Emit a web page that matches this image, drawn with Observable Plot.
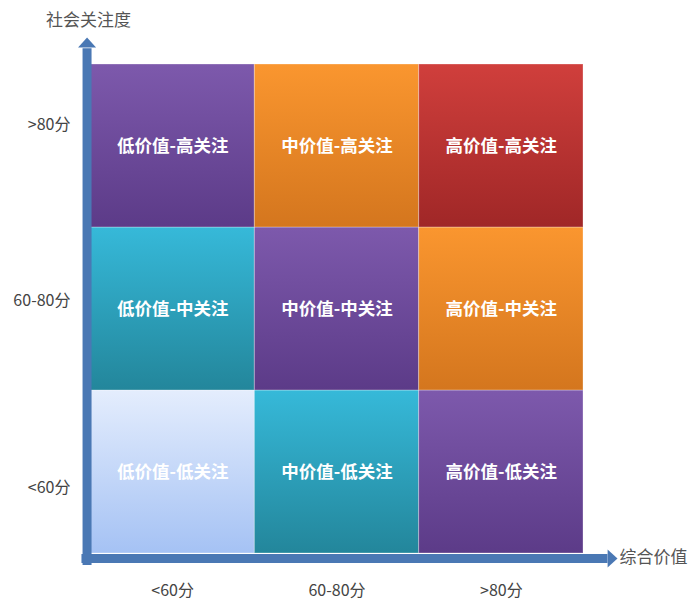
<!DOCTYPE html>
<html>
<head>
<meta charset="utf-8">
<script src="https://cdn.jsdelivr.net/npm/d3@7"></script>
<script src="https://cdn.jsdelivr.net/npm/@observablehq/plot@0.6"></script>
<style>
  html, body { margin: 0; padding: 0; background: #fff; }
  #chart { width: 692px; height: 601px; }
  svg { font-family: "Noto Sans CJK SC", "Noto Sans", sans-serif; }
</style>
</head>
<body>
<div id="chart"></div>
<script>
// ---- data ----
const xTickLabels = ["<60分", "60-80分", ">80分"];
const yTickLabels = ["<60分", "60-80分", ">80分"];
const valueLevels = ["低价值", "中价值", "高价值"];
const attentionLevels = ["低关注", "中关注", "高关注"];
// palette key per [attention row][value column]
const cellPalette = [
  ["light", "teal", "purple"],
  ["teal", "purple", "orange"],
  ["purple", "orange", "red"]
];
const yTickPos = [0.40, 1.55, 2.63];
const xAxisTitle = "综合价值";
const yAxisTitle = "社会关注度";

const gradients = {
  purple: ["#7d59ac", "#5c3b88"],
  orange: ["#fa962f", "#d4761e"],
  red: ["#d03f3c", "#a02727"],
  teal: ["#36b9d9", "#23869b"],
  light: ["#e4edfd", "#a5c2f4"]
};

const cells = [];
attentionLevels.forEach((a, yi) => {
  valueLevels.forEach((v, xi) => {
    cells.push({
      x1: xi, x2: xi + 1, y1: yi, y2: yi + 1,
      label: `${v}-${a}`,
      fill: `url(#grad-${cellPalette[yi][xi]})`
    });
  });
});

const axisColor = "#4a78b4";

// flat arrowhead symbol (points up before rotation)
const arrowHead = {
  draw(context, size) {
    const r = Math.sqrt(size / Math.PI);
    context.moveTo(0, -r * 0.6);
    context.lineTo(r, r * 0.5);
    context.lineTo(-r, r * 0.5);
    context.closePath();
  }
};

const plot = Plot.plot({
  width: 692,
  height: 601,
  marginLeft: 90,
  marginRight: 109,
  marginTop: 64,
  marginBottom: 48,
  x: { domain: [0, 3], axis: null },
  y: { domain: [0, 3], axis: null },
  color: { type: "identity" },
  marks: [
    Plot.rect(cells, {
      x1: "x1", x2: "x2", y1: "y1", y2: "y2",
      fill: "fill", stroke: "#ffffff", strokeOpacity: 0.3, strokeWidth: 1
    }),
    Plot.text(cells, {
      x: d => (d.x1 + d.x2) / 2,
      y: d => (d.y1 + d.y2) / 2,
      text: "label",
      fill: "#ffffff",
      fontSize: 17.5,
      fontWeight: "bold"
    }),
    // axes
    Plot.link([{ x1: -0.021, y1: -0.07, x2: -0.021, y2: 3.10 }], {
      x1: "x1", y1: "y1", x2: "x2", y2: "y2",
      stroke: axisColor, strokeWidth: 9
    }),
    Plot.link([{ x1: -0.055, y1: -0.031, x2: 3.146, y2: -0.031 }], {
      x1: "x1", y1: "y1", x2: "x2", y2: "y2",
      stroke: axisColor, strokeWidth: 9
    }),
    Plot.dot([{ x: -0.021, y: 3.132, r: 0 }, { x: 3.174, y: -0.031, r: 90 }], {
      x: "x", y: "y", rotate: "r", symbol: arrowHead, r: 9,
      fill: axisColor, stroke: "none"
    }),
    // tick labels
    Plot.text(xTickLabels, {
      x: (d, i) => i + 0.5, y: -0.227, text: d => d,
      fill: "#444", fontSize: 16
    }),
    Plot.text(yTickLabels, {
      x: -0.122, y: (d, i) => yTickPos[i], text: d => d,
      textAnchor: "end", fill: "#444", fontSize: 16
    }),
    // axis titles
    Plot.text([yAxisTitle], { x: -0.012, y: 3.27, text: d => d, fill: "#555", fontSize: 17 }),
    Plot.text([xAxisTitle], { x: 3.219, y: -0.025, text: d => d, textAnchor: "start", fill: "#555", fontSize: 17 })
  ]
});

// gradient definitions
const svg = d3.select(plot);
const defs = svg.insert("defs", ":first-child");
for (const [key, [top, bottom]] of Object.entries(gradients)) {
  const g = defs.append("linearGradient")
    .attr("id", `grad-${key}`)
    .attr("x1", 0).attr("y1", 0).attr("x2", 0).attr("y2", 1);
  g.append("stop").attr("offset", "0%").attr("stop-color", top);
  g.append("stop").attr("offset", "100%").attr("stop-color", bottom);
}

document.getElementById("chart").appendChild(plot);
</script>
</body>
</html>
